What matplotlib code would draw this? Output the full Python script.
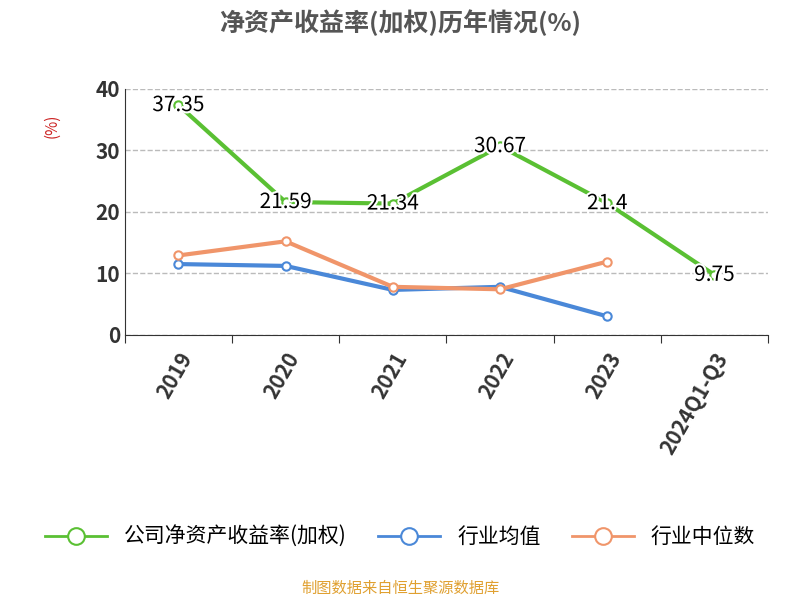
import matplotlib
matplotlib.use("Agg")
import matplotlib.pyplot as plt
import matplotlib.patheffects as pe
from matplotlib.lines import Line2D

plt.rcParams['font.family'] = ['Noto Sans CJK SC', 'DejaVu Sans']

categories = ["2019", "2020", "2021", "2022", "2023", "2024Q1-Q3"]
company = [37.35, 21.59, 21.34, 30.67, 21.4, 9.75]
industry_avg = [11.5, 11.2, 7.3, 7.8, 3.0]
industry_median = [12.9, 15.2, 7.8, 7.4, 11.9]

fig = plt.figure(figsize=(8, 6), dpi=100)
ax = fig.add_axes([0.156, 0.442, 0.804, 0.41])
x = list(range(len(categories)))

ax.plot(x, company, color="#5ac033", lw=3, marker="o", ms=6, mfc="white", mec="#5ac033", mew=1.5, zorder=3)
ax.plot(x[:5], industry_avg, color="#4a88d8", lw=3, marker="o", ms=6, mfc="white", mec="#4a88d8", mew=1.5, zorder=3)
ax.plot(x[:5], industry_median, color="#f0956a", lw=3, marker="o", ms=6, mfc="white", mec="#f0956a", mew=1.5, zorder=3)
for xi, v in zip(x, company):
    ax.text(xi, v, f"{v:g}", ha="center", va="center", fontsize=15, color="black", zorder=4,
            path_effects=[pe.withStroke(linewidth=3, foreground="white")])

ax.set_xlim(-0.5, 5.5)
ax.set_ylim(0, 40)
ax.set_yticks([0, 10, 20, 30, 40])
ax.tick_params(axis="y", labelsize=15, length=0, colors="#333333")
for t in ax.get_yticklabels():
    t.set_fontweight("bold")
ax.set_xticks([i + 0.5 for i in range(-1, 6)], minor=False)
ax.set_xticklabels([])
ax.set_xticks(x, minor=True)
ax.set_xticklabels(categories, minor=True, rotation=60, ha="right", rotation_mode="anchor",
                   fontsize=15, color="#333333", fontweight="bold")
ax.tick_params(axis="x", which="major", length=6, color="#333333")
ax.tick_params(axis="x", which="minor", length=0, pad=10)
for s in ["top", "right"]:
    ax.spines[s].set_visible(False)
ax.spines["left"].set_color("#333333")
ax.spines["bottom"].set_color("#333333")
ax.grid(axis="y", ls="--", color="#bbbbbb", lw=1)
ax.set_axisbelow(True)
ax.set_ylabel("(%)", color="#cc2222", fontsize=11)
ax.yaxis.set_label_coords(-0.1, 0.85)

fig.text(0.5, 0.962, "净资产收益率(加权)历年情况(%)", ha="center", va="center", fontsize=18, fontweight="bold", color="#555555")

handles = [Line2D([], [], color=c, lw=2, marker="o", ms=12, mfc="white", mec=c, mew=1.5)
           for c in ["#5ac033", "#4a88d8", "#f0956a"]]
fig.legend(handles, ["公司净资产收益率(加权)", "行业均值", "行业中位数"], loc="center",
           bbox_to_anchor=(0.5, 0.105), ncol=3, frameon=False, fontsize=15, handlelength=3, columnspacing=1.5)
fig.text(0.5, 0.02, "制图数据来自恒生聚源数据库", ha="center", va="center", fontsize=11, color="#e0a030")
fig.savefig("out.png", dpi=100)
